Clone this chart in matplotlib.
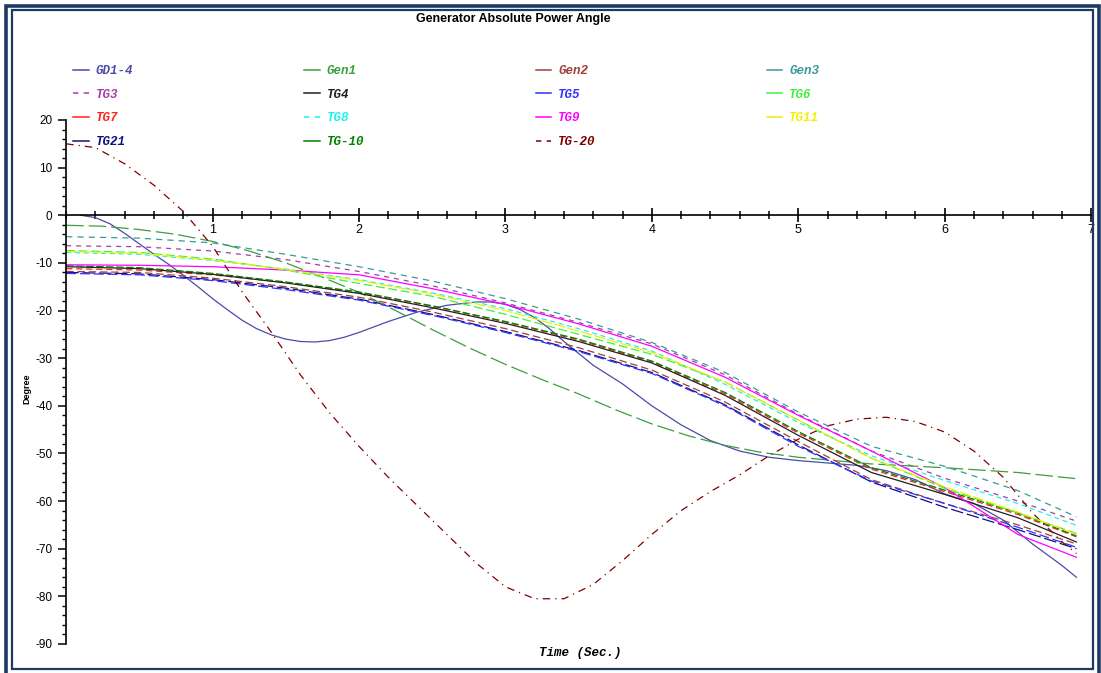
"""Generator absolute power angle vs time, recreated from a report screenshot."""

import matplotlib
matplotlib.use("Agg")
import matplotlib.pyplot as plt
from matplotlib.lines import Line2D
from matplotlib.patches import Rectangle
from matplotlib.ticker import MultipleLocator

plt.rcParams["axes.unicode_minus"] = False

FRAME = "#1d3a62"
MONO = "Liberation Mono"
SANS = "Liberation Sans"

# common time grid for the smooth bundle curves (s)
t_grid = [0, 0.5, 1.0, 1.5, 2.0, 2.5, 3.0, 3.5, 4.0, 4.5, 5.0, 5.5, 6.0, 6.5, 6.9]

gen3 = [-4.5, -4.8, -5.8, -8.2, -10.8, -13.8, -17.5, -21.8, -26.7, -33.0, -41.3, -48.5, -52.7, -57.8, -63.3]
tg3 = [-6.4, -6.6, -7.5, -9.3, -11.8, -14.8, -18.4, -22.5, -27.0, -33.5, -41.8, -49.5, -55.2, -60.0, -64.2]
tg6 = [-7.4, -7.8, -9.2, -11.5, -14.3, -17.0, -20.8, -25.0, -29.2, -35.0, -43.0, -51.0, -57.3, -62.5, -66.8]
tg8 = [-7.8, -8.2, -9.5, -11.3, -13.5, -16.3, -19.6, -23.8, -28.5, -35.5, -43.5, -50.5, -55.7, -60.5, -65.1]
tg11 = [-7.6, -8.0, -9.4, -11.4, -13.7, -16.5, -20.0, -24.3, -28.8, -35.0, -43.0, -51.0, -57.0, -62.3, -67.0]
tg9 = [-10.4, -10.5, -10.8, -11.5, -12.5, -15.4, -18.7, -22.8, -27.5, -34.0, -42.0, -49.5, -57.2, -67.0, -71.8]
tg4 = [-10.8, -11.2, -12.4, -14.2, -16.4, -19.4, -22.7, -26.5, -31.0, -37.8, -46.2, -54.0, -58.6, -63.5, -68.6]
tg7 = [-11.2, -11.5, -12.5, -14.1, -16.2, -19.1, -22.4, -26.2, -30.8, -37.5, -45.7, -53.3, -58.0, -62.8, -67.5]
tg10 = [-10.6, -11.0, -12.2, -14.0, -16.1, -19.0, -22.3, -26.0, -30.6, -37.2, -45.4, -53.0, -57.7, -62.5, -67.3]
gen2 = [-11.8, -12.0, -13.2, -15.0, -17.2, -20.3, -23.8, -27.8, -32.5, -39.2, -47.5, -55.5, -60.5, -65.0, -69.0]
tg5 = [-12.2, -12.5, -13.7, -15.6, -17.8, -21.0, -24.6, -28.6, -33.2, -40.0, -48.5, -55.8, -60.5, -65.5, -69.7]
tg21 = [-12.0, -12.3, -13.5, -15.3, -17.6, -20.8, -24.4, -28.4, -33.0, -39.8, -48.2, -56.0, -61.3, -66.0, -70.0]

gd_t = [0.1, 0.2, 0.3, 0.4, 0.5, 0.6, 0.7, 0.8, 0.9, 1.0, 1.1, 1.2, 1.3, 1.4, 1.5,
        1.6, 1.7, 1.8, 1.9, 2.0, 2.2, 2.4, 2.6, 2.8, 2.9, 3.0, 3.1, 3.2, 3.3, 3.4,
        3.5, 3.6, 3.8, 4.0, 4.2, 4.4, 4.6, 4.8, 5.0, 5.2, 5.4, 5.6, 5.8, 6.0, 6.2,
        6.4, 6.6, 6.8, 6.9]
gd1_4 = [0.0, -0.5, -1.8, -3.8, -6.0, -8.2, -10.3, -12.6, -15.0, -17.5, -19.8, -22.0,
         -23.8, -25.1, -26.0, -26.5, -26.6, -26.3, -25.6, -24.6, -22.3, -20.3, -18.9,
         -18.2, -18.2, -18.7, -19.8, -21.5, -23.8, -26.5, -29.0, -31.5, -35.4, -40.0,
         -44.0, -47.3, -49.5, -50.8, -51.5, -52.0, -52.5, -53.6, -55.5, -58.5, -60.5,
         -64.0, -69.0, -73.5, -76.0]

gen1_t = [0, 0.25, 0.5, 0.75, 1.0, 1.25, 1.5, 1.75, 2.0, 2.25, 2.5, 2.75, 3.0, 3.25,
          3.5, 3.75, 4.0, 4.25, 4.5, 4.75, 5.0, 5.5, 6.0, 6.5, 6.9]
gen1 = [-2.1, -2.3, -3.0, -4.0, -5.5, -7.5, -10.0, -13.0, -16.2, -20.0, -24.0, -27.8,
        -31.3, -34.5, -37.5, -40.8, -43.8, -46.3, -48.3, -49.8, -50.8, -52.2, -53.0,
        -54.0, -55.3]

tg20_t = [0, 0.2, 0.4, 0.6, 0.8, 1.0, 1.2, 1.4, 1.6, 1.8, 2.0, 2.2, 2.4, 2.6, 2.8,
          3.0, 3.2, 3.4, 3.6, 3.8, 4.0, 4.2, 4.4, 4.6, 4.8, 5.0, 5.2, 5.4, 5.6, 5.8,
          6.0, 6.2, 6.4, 6.6, 6.8, 6.9]
tg20 = [15.0, 14.2, 10.8, 6.3, 0.8, -6.5, -16.0, -24.5, -33.5, -41.5, -48.5, -55.0,
        -61.0, -67.0, -73.0, -78.0, -80.5, -80.5, -77.5, -72.5, -67.0, -62.0, -58.0,
        -54.5, -50.5, -47.0, -44.2, -42.8, -42.4, -43.3, -45.5, -49.5, -55.0, -62.5,
        -68.5, -71.0]

# legend is filled column by column: (name, t, y, colour, plot style, legend dashed?)
series = [
    ("GD1-4", gd_t, gd1_4, "#4b4ba8", "-", False),
    ("TG3", t_grid, tg3, "#a040a8", (0, (4, 4)), True),
    ("TG7", t_grid, tg7, "#ff2020", (0, (5, 3)), False),
    ("TG21", t_grid, tg21, "#101080", (0, (10, 3)), False),
    ("Gen1", gen1_t, gen1, "#3c9e3c", (0, (14, 4)), False),
    ("TG4", t_grid, tg4, "#202020", "-", False),
    ("TG8", t_grid, tg8, "#20f0f0", (0, (4, 3)), True),
    ("TG-10", t_grid, tg10, "#008000", (0, (6, 2)), False),
    ("Gen2", t_grid, gen2, "#a0403c", (0, (6, 3)), False),
    ("TG5", t_grid, tg5, "#3030ff", (0, (8, 3)), False),
    ("TG9", t_grid, tg9, "#ff00ff", "-", False),
    ("TG-20", tg20_t, tg20, "#800000", (0, (6, 4, 1, 4)), True),
    ("Gen3", t_grid, gen3, "#3a9a9a", (0, (5, 4)), False),
    ("TG6", t_grid, tg6, "#40f040", (0, (7, 3)), False),
    ("TG11", t_grid, tg11, "#f0f000", (0, (9, 2)), False),
]

fig = plt.figure(figsize=(11.01, 6.73), dpi=100)
fig.patch.set_facecolor("white")
ax = fig.add_axes([0.0601, 0.0431, 0.9309, 0.7786])

handles = []
for name, t, y, color, ls, leg_dash in series:
    ax.plot(t, y, color=color, linestyle=ls, linewidth=0.9)
    handles.append(Line2D([], [], color=color, linewidth=1.1, label=name,
                          linestyle=(0, (3.5, 3.5)) if leg_dash else "-"))

ax.legend(handles=handles, ncol=4, loc="upper left", frameon=False,
          bbox_to_anchor=(73 / 1101, 1 - 65 / 673), bbox_transform=fig.transFigure,
          borderaxespad=0, borderpad=0, handlelength=1.25, handletextpad=0.55,
          columnspacing=13.7, labelspacing=0.93, labelcolor="linecolor",
          prop={"family": MONO, "weight": "bold", "style": "italic", "size": 9})

ax.set_xlim(0, 7)
ax.set_ylim(-90, 20)
ax.spines["top"].set_visible(False)
ax.spines["right"].set_visible(False)
ax.spines["bottom"].set_position(("data", 0))
for s in ("left", "bottom"):
    ax.spines[s].set_linewidth(1.2)

ax.xaxis.set_major_locator(MultipleLocator(1))
ax.xaxis.set_minor_locator(MultipleLocator(0.2))
ax.yaxis.set_major_locator(MultipleLocator(10))
ax.yaxis.set_minor_locator(MultipleLocator(2))
ax.set_xticks([1, 2, 3, 4, 5, 6, 7])
ax.tick_params(axis="x", which="major", direction="inout", length=10, width=1.2,
               pad=1, labelsize=9)
ax.tick_params(axis="x", which="minor", direction="inout", length=6, width=1.1)
ax.tick_params(axis="y", which="major", direction="out", length=6, width=1.1,
               pad=4, labelsize=8.5)
ax.tick_params(axis="y", which="minor", direction="out", length=3, width=1.0)
for lab in ax.get_xticklabels() + ax.get_yticklabels():
    lab.set_fontfamily(SANS)

fig.text(0.466, 0.972, "Generator Absolute Power Angle", ha="center", va="center",
         fontsize=9, fontweight="bold", family=SANS)
fig.text(0.0245, 0.423, "Degree", rotation=90, ha="center", va="center",
         fontsize=6.5, fontweight="bold", family=SANS)
fig.text(0.527, 0.030, "Time (Sec.)", ha="center", va="center", fontsize=9,
         fontweight="bold", style="italic", family=MONO)

# double navy frame around the whole picture
fig.patches.append(Rectangle((5.5 / 1101, -0.01), 1093 / 1101, 1 - 5.5 / 673 + 0.01,
                             transform=fig.transFigure, fill=False,
                             edgecolor=FRAME, linewidth=2.6))
fig.patches.append(Rectangle((12 / 1101, 4 / 673), 1081 / 1101, 1 - 14 / 673,
                             transform=fig.transFigure, fill=False,
                             edgecolor=FRAME, linewidth=1.6))

fig.savefig("out.png", dpi=100, facecolor="white")
